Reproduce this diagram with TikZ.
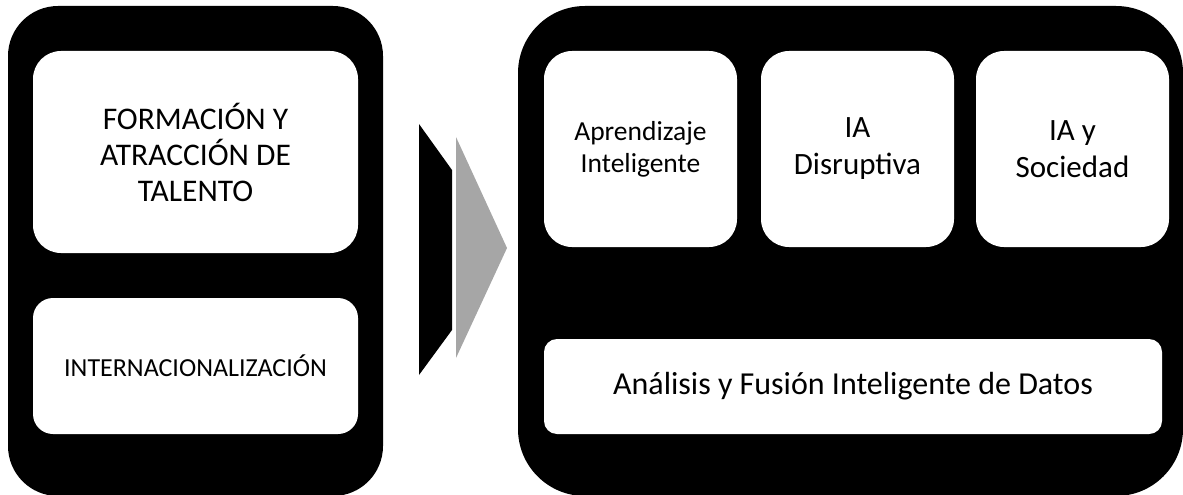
\documentclass[tikz,border=0pt]{standalone}
\usepackage{fontspec}
\setmainfont{Carlito}
\usepackage{tikz}
\usetikzlibrary{positioning}
\definecolor{arrow-grey}{RGB}{166,166,166}

\begin{document}
\begin{tikzpicture}[
    x=1pt, y=-1pt,
    panel/.style={rectangle, fill=black, draw=none, inner sep=0pt},
    area/.style={rectangle, fill=white, draw=none, align=center, inner sep=0pt, font=\fontsize{31}{37}\selectfont},
    line/.style={rectangle, fill=white, draw=none, align=center, inner sep=0pt}
]
\useasboundingbox (0,0) rectangle (1183,495);

% left panel
\node[panel, minimum width=375pt, minimum height=490pt, rounded corners=50pt] (left-panel) at (195.5,251) {};
\node[area, minimum width=325pt, minimum height=202pt, rounded corners=28pt, font=\fontsize{31.5}{36}\selectfont] (talento) at (195.5,152) {FORMACIÓN Y\\ATRACCIÓN DE\\TALENTO};
\node[line, minimum width=325pt, minimum height=136pt, rounded corners=20pt, font=\fontsize{26}{31}\selectfont] (intern) at (195.5,366) {INTERNACIONALIZACIÓN};

% arrow between panels
\fill[black] (419,124) -- (452,170) -- (452,330) -- (419,375) -- cycle;
\fill[arrow-grey] (456,137) -- (507,248) -- (456,358) -- cycle;

% right panel
\node[panel, minimum width=665pt, minimum height=490pt, rounded corners=67pt] (right-panel) at (850.5,251) {};
\node[area, minimum width=193pt, minimum height=196pt, rounded corners=28pt, font=\fontsize{27.5}{32}\selectfont] (aprendizaje) at (640.5,149) {Aprendizaje\\Inteligente};
\node[area, minimum width=193pt, minimum height=196pt, rounded corners=28pt] (disruptiva) at (857.5,149) {IA\\Disruptiva};
\node[area, minimum width=193pt, minimum height=196pt, rounded corners=28pt] (sociedad) at (1072.5,149) {IA y\\Sociedad};
\node[line, minimum width=618pt, minimum height=95pt, rounded corners=13pt, font=\fontsize{32}{38}\selectfont] (datos) at (853,386.5) {Análisis y Fusión Inteligente de Datos};

\end{tikzpicture}
\end{document}
